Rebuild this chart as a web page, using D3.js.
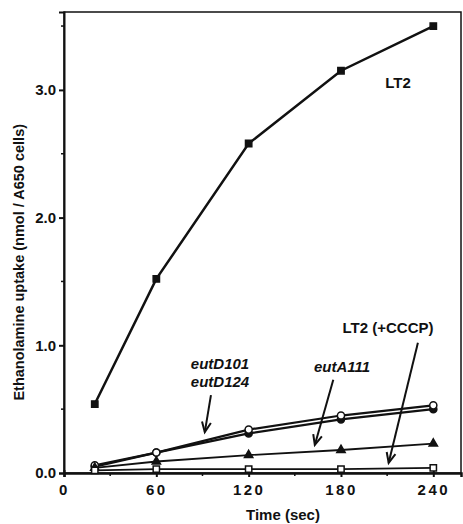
<!DOCTYPE html>
<html>
<head>
<meta charset="utf-8">
<script src="https://cdn.jsdelivr.net/npm/d3@7"></script>
<style>
  body { margin: 0; background: #fff; }
  text { font-family: "Liberation Sans", Arial, sans-serif; font-weight: bold; fill: #111; }
</style>
</head>
<body>
<div id="chart"></div>
<script>
// time points (sec)
const times = [20, 60, 120, 180, 240];
// uptake values (nmol / A650 cells)
const lt2 = [0.54, 1.52, 2.58, 3.15, 3.50];
const eutD101 = [0.06, 0.16, 0.34, 0.45, 0.53];
const eutD124 = [0.05, 0.16, 0.31, 0.42, 0.50];
const eutA111 = [0.04, 0.09, 0.14, 0.18, 0.23];
const lt2Cccp = [0.02, 0.03, 0.03, 0.03, 0.04];
const xTicks = [0, 60, 120, 180, 240];
const yTicks = [0, 1, 2, 3];

const width = 463, height = 524;
const margin = { top: 12, right: 2, bottom: 51, left: 64 };

const svg = d3.select('#chart').append('svg')
  .attr('width', width)
  .attr('height', height);

const x = d3.scaleLinear()
  .domain([0, 258])
  .range([margin.left, width - margin.right]);

const y = d3.scaleLinear()
  .domain([0, 3.61])
  .range([height - margin.bottom, margin.top]);

// frame
svg.append('rect')
  .attr('x', x(0)).attr('y', y(3.61))
  .attr('width', x(258) - x(0)).attr('height', y(0) - y(3.61))
  .attr('fill', 'none').attr('stroke', '#111').attr('stroke-width', 1.5);

// x axis
const xAxis = svg.append('g')
  .attr('transform', `translate(0,${y(0)})`)
  .call(d3.axisBottom(x).tickValues(xTicks).tickSize(4).tickPadding(7).tickFormat(d3.format('d')));
xAxis.select('.domain').attr('stroke-width', 2.5).attr('stroke', '#111');
xAxis.selectAll('.tick line').attr('y1', -3).attr('stroke-width', 2).attr('stroke', '#111');
xAxis.selectAll('.tick text').style('font-size', '15px').style('letter-spacing', '2.5px').attr('fill', '#111');
svg.append('g')
  .attr('transform', `translate(0,${y(0)})`)
  .selectAll('line')
  .data([30, 90, 150, 210])
  .join('line')
  .attr('x1', d => x(d)).attr('x2', d => x(d))
  .attr('y1', 0).attr('y2', 3)
  .attr('stroke', '#111').attr('stroke-width', 1.5);

// y axis
const yAxis = svg.append('g')
  .attr('transform', `translate(${x(0)},0)`)
  .call(d3.axisLeft(y).tickValues(yTicks).tickSize(5).tickPadding(3).tickFormat(d3.format('.1f')));
yAxis.select('.domain').attr('stroke-width', 2).attr('stroke', '#111');
yAxis.selectAll('.tick line').attr('stroke-width', 2).attr('stroke', '#111');
yAxis.selectAll('.tick text').style('font-size', '15px').attr('fill', '#111');
svg.append('g')
  .attr('transform', `translate(${x(0)},0)`)
  .selectAll('line')
  .data([0.5, 1.5, 2.5, 3.5])
  .join('line')
  .attr('x1', -3).attr('x2', 0)
  .attr('y1', d => y(d)).attr('y2', d => y(d))
  .attr('stroke', '#111').attr('stroke-width', 1.5);

// axis titles
svg.append('text')
  .attr('x', 283).attr('y', 520)
  .attr('text-anchor', 'middle')
  .style('font-size', '15px')
  .text('Time (sec)');

svg.append('text')
  .attr('transform', `translate(24,${y(1.65)}) rotate(-90)`)
  .attr('text-anchor', 'middle')
  .style('font-size', '14.5px')
  .text('Ethanolamine uptake (nmol / A650 cells)');

// series
const series = [
  { name: 'lt2', values: lt2, marker: 'square', fill: '#111', width: 2.5 },
  { name: 'eutD124', values: eutD124, marker: 'circle', fill: '#111', width: 2.2 },
  { name: 'eutD101', values: eutD101, marker: 'circle', fill: '#fff', width: 2.2 },
  { name: 'eutA111', values: eutA111, marker: 'triangle', fill: '#111', width: 1.8 },
  { name: 'lt2Cccp', values: lt2Cccp, marker: 'square', fill: '#fff', width: 1.8 }
];

const line = d3.line()
  .x(d => x(d[0]))
  .y(d => y(d[1]));

const symbols = { square: d3.symbolSquare, circle: d3.symbolCircle, triangle: d3.symbolTriangle };

series.forEach(s => {
  const pts = times.map((t, i) => [t, s.values[i]]);
  svg.append('path')
    .datum(pts)
    .attr('fill', 'none')
    .attr('stroke', '#111')
    .attr('stroke-width', s.width)
    .attr('d', line);

  svg.append('g')
    .selectAll('path')
    .data(pts)
    .join('path')
    .attr('transform', d => `translate(${x(d[0])},${y(d[1])})`)
    .attr('d', d3.symbol().type(symbols[s.marker]).size(s.marker === 'triangle' ? 30 : 40))
    .attr('fill', s.fill)
    .attr('stroke', '#111')
    .attr('stroke-width', 1.5);
});

// annotations
svg.append('text')
  .attr('x', 398).attr('y', 88)
  .attr('text-anchor', 'middle')
  .style('font-size', '15px')
  .text('LT2');

svg.append('text')
  .attr('x', 388).attr('y', 333)
  .attr('text-anchor', 'middle')
  .style('font-size', '15px')
  .text('LT2 (+CCCP)');

svg.append('text')
  .attr('x', 220).attr('y', 369)
  .attr('text-anchor', 'middle')
  .style('font-size', '15px').style('font-style', 'italic')
  .text('eutD101');

svg.append('text')
  .attr('x', 220).attr('y', 387)
  .attr('text-anchor', 'middle')
  .style('font-size', '15px').style('font-style', 'italic')
  .text('eutD124');

svg.append('text')
  .attr('x', 342).attr('y', 372)
  .attr('text-anchor', 'middle')
  .style('font-size', '15px').style('font-style', 'italic')
  .text('eutA111');

// arrows (start, tip) in data units
const arrows = [
  [[95.5, 0.61], [91.5, 0.32]],
  [[175, 0.73], [163, 0.22]],
  [[230, 1.02], [211, 0.08]]
];

arrows.forEach(([a, b]) => {
  const x1 = x(a[0]), y1 = y(a[1]), x2 = x(b[0]), y2 = y(b[1]);
  const ang = Math.atan2(y2 - y1, x2 - x1);
  const len = 11, spread = 0.42;
  const g = svg.append('g').attr('stroke', '#111').attr('stroke-width', 2).attr('fill', 'none');
  g.append('line').attr('x1', x1).attr('y1', y1).attr('x2', x2).attr('y2', y2);
  g.append('path')
    .attr('d', `M${x2 - len * Math.cos(ang - spread)},${y2 - len * Math.sin(ang - spread)}L${x2},${y2}L${x2 - len * Math.cos(ang + spread)},${y2 - len * Math.sin(ang + spread)}`);
});
</script>
</body>
</html>
